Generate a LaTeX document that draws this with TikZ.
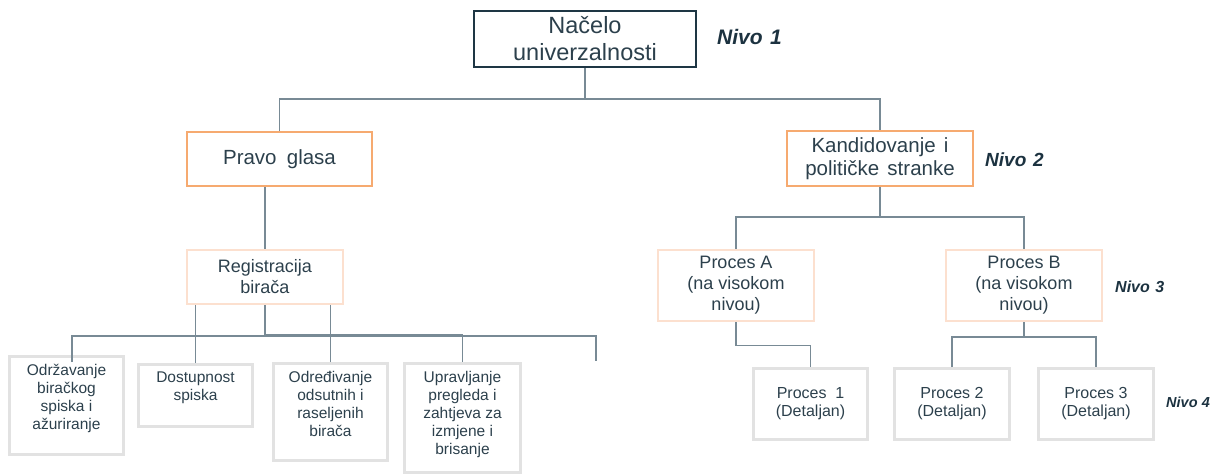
\documentclass[tikz,border=0pt]{standalone}
\usepackage{fontspec}
\setmainfont{Liberation Sans}
\definecolor{textc}{RGB}{44,64,76}
\definecolor{nivoc}{RGB}{28,50,64}
\definecolor{linec}{RGB}{120,138,149}
\definecolor{topc}{RGB}{30,54,68}
\definecolor{orangec}{RGB}{246,170,112}
\definecolor{peachc}{RGB}{252,224,207}
\definecolor{greyc}{RGB}{226,226,226}
\tikzset{
  conn/.style={draw=linec, line width=1.2pt},
  anybox/.style={rectangle, inner sep=0pt, text=textc, align=center},
  topbox/.style={anybox, draw=topc, line width=2pt, font=\fontsize{23.5}{27}\selectfont},
  lvtwo/.style={anybox, draw=orangec, line width=2.5pt, font=\fontsize{20.5}{23.5}\selectfont},
  lvthree/.style={anybox, draw=peachc, line width=2.5pt, font=\fontsize{18}{21}\selectfont},
  lvfour/.style={anybox, draw=greyc, line width=3pt, font=\fontsize{16}{18}\selectfont},
  boxtext/.style={anybox, anchor=north, font=\fontsize{15.5}{18}\selectfont},
  nivo/.style={text=nivoc, inner sep=0pt, anchor=base west, font=\bfseries\itshape}
}
\begin{document}
\begin{tikzpicture}[x=1pt, y=-1pt]
\useasboundingbox (0,0) rectangle (1215,475);

% level 1
\node[topbox, minimum width=222, minimum height=56] (top) at (585,39)
  {Načelo\\univerzalnosti};
\node[nivo, font=\fontsize{21}{24}\bfseries\itshape] (n1) at (717,44) {Nivo\hspace{0.35em}1};

% level 2
\node[lvtwo, minimum width=185, minimum height=54] (pravo) at (279.5,159)
  {Pravo\hspace{0.5em}glasa};
\node[lvtwo, minimum width=186, minimum height=55] (kand) at (880,158.5)
  {Kandidovanje\hspace{0.4em}i\\političke\hspace{0.4em}stranke};
\node[nivo, font=\fontsize{19}{22}\bfseries\itshape] (n2) at (985,166) {Nivo\hspace{0.35em}2};

% level 3
\node[lvthree, minimum width=156, minimum height=54] (reg) at (265,277)
  {Registracija\\birača};
\node[lvthree, minimum width=156, minimum height=71] (pA) at (736,285.5)
  {Proces A\\(na visokom\\nivou)};
\node[lvthree, minimum width=156, minimum height=71] (pB) at (1024,285.5)
  {Proces B\\(na visokom\\nivou)};
\node[nivo, font=\fontsize{16}{19}\bfseries\itshape] (n3) at (1115,292) {Nivo\hspace{0.35em}3};

% level 4, left branch
\node[lvfour, minimum width=114, minimum height=98] (odr) at (66.5,405.5) {};
\node[boxtext] (todr) at ([yshift=-9pt]odr.north)
  {Održavanje\\biračkog\\spiska i\\ažuriranje};
\node[lvfour, minimum width=114, minimum height=62] (dost) at (195.5,395.5) {};
\node[boxtext] (tdost) at ([yshift=-9pt]dost.north)
  {Dostupnost\\spiska};
\node[lvfour, minimum width=114, minimum height=97] (odre) at (330.5,412) {};
\node[boxtext] (todre) at ([yshift=-9pt]odre.north)
  {Određivanje\\odsutnih i\\raseljenih\\birača};
\node[lvfour, minimum width=116, minimum height=109] (uprav) at (462.5,418) {};
\node[boxtext] (tuprav) at ([yshift=-9pt]uprav.north)
  {Upravljanje\\pregleda i\\zahtjeva za\\izmjene i\\brisanje};

% level 4, right branch
\node[lvfour, minimum width=114, minimum height=71] (p1) at (810.5,404)
  {Proces\hspace{0.55em}1\\(Detaljan)};
\node[lvfour, minimum width=115, minimum height=71] (p2) at (952,404)
  {Proces 2\\(Detaljan)};
\node[lvfour, minimum width=115, minimum height=71] (p3) at (1096,404)
  {Proces 3\\(Detaljan)};
\node[nivo, font=\fontsize{14.5}{17}\bfseries\itshape] (n4) at (1166,407) {Nivo\hspace{0.3em}4};

% connectors: level 1 to level 2
\coordinate (busA) at (585,99);
\draw[conn] (top.south) -- (busA);
\draw[conn] (pravo.north) |- (busA) -| (kand.north);

% Pravo glasa to Registracija
\draw[conn] (reg.north) -- (reg.north |- pravo.south);

% Kandidovanje to Proces A / B
\coordinate (busB) at (880,217);
\draw[conn] (kand.south) -- (busB);
\draw[conn] (pA.north) |- (busB) -| (pB.north);

% Proces A to Proces 1
\draw[conn] (pA.south) -- ++(0,23) -| (p1.north);

% Proces B to Proces 2 / 3
\coordinate (busC) at (1024,337);
\draw[conn] (pB.south) -- (busC);
\draw[conn] (p2.north) |- (busC) -| (p3.north);

% Registracija to the detailed boxes
\coordinate (busD) at (265,336);
\coordinate (odrin) at (72,362);
\coordinate (loose) at (596,361);
\draw[conn] (reg.south) -- (busD);
\draw[conn] (odrin) |- (busD) -| (loose);
\draw[conn] (dost.north) -- (dost.north |- reg.south);
\draw[conn] (odre.north) -- (odre.north |- reg.south);
\draw[conn] (reg.south) ++(0,29) -| (uprav.north);
\end{tikzpicture}
\end{document}
